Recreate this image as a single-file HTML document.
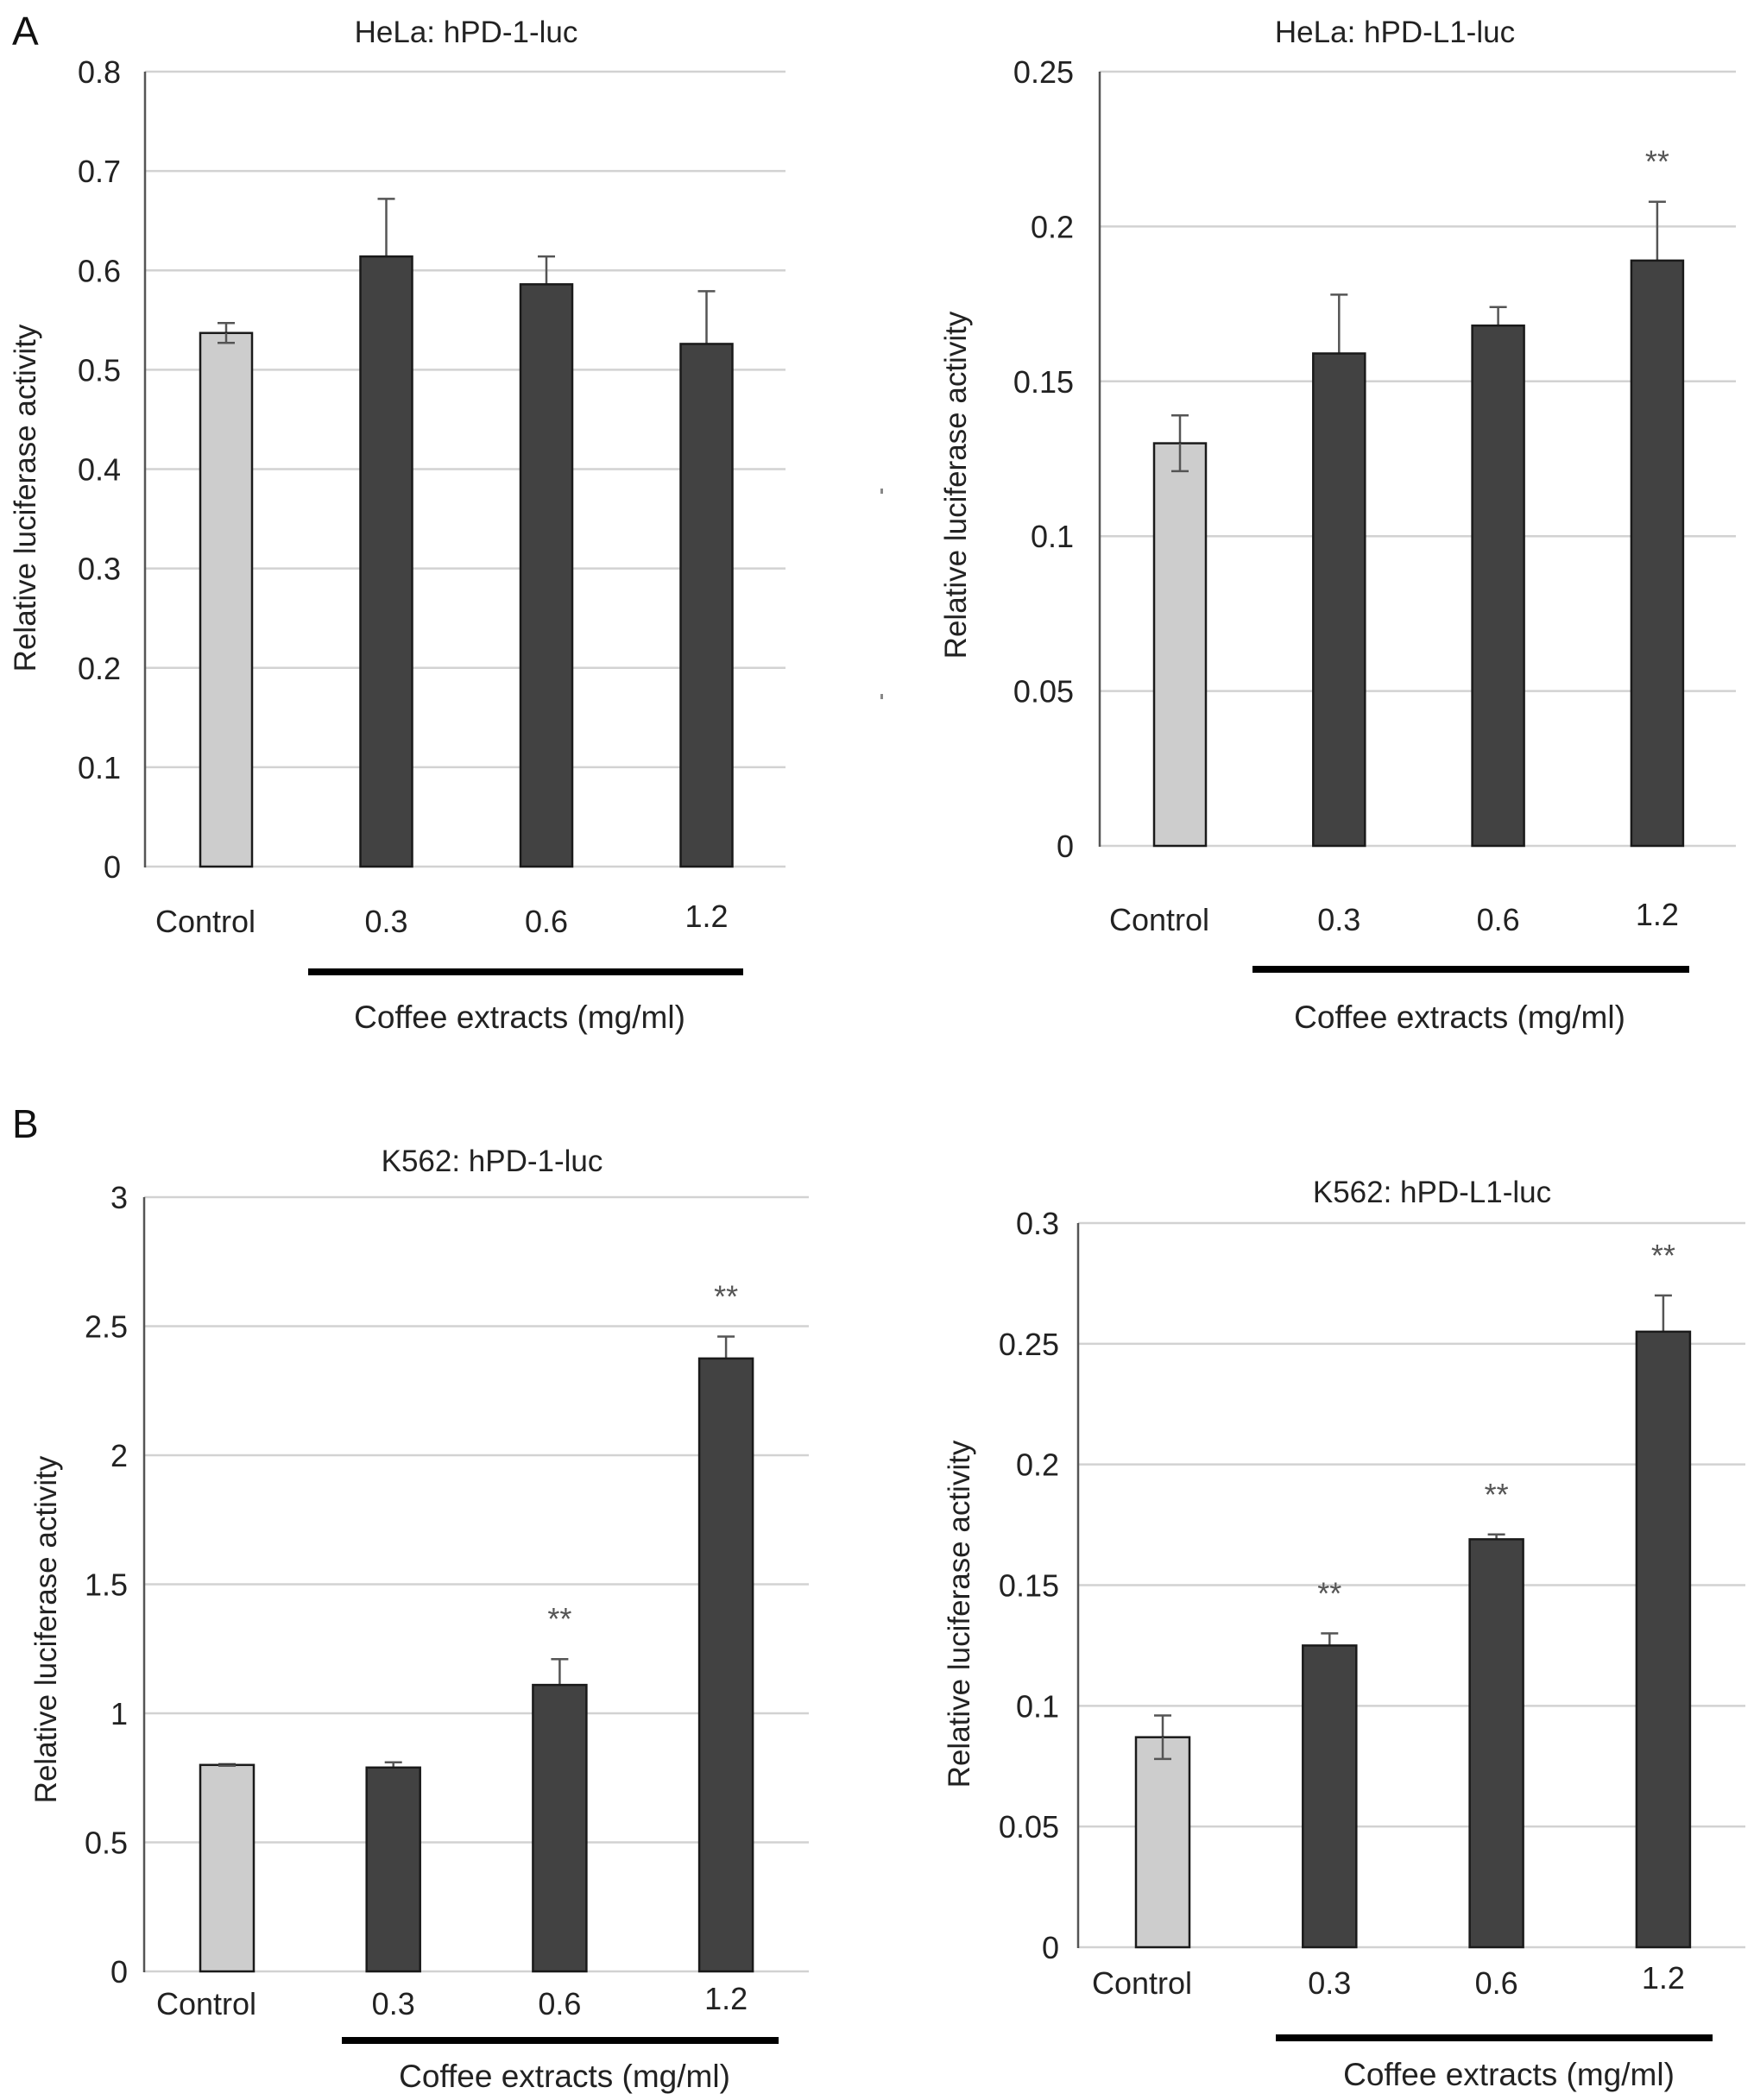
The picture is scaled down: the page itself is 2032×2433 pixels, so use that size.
<!DOCTYPE html>
<html><head><meta charset="utf-8"><style>
html,body{margin:0;padding:0;background:#fff;}
svg{display:block;font-family:"Liberation Sans",Arial,sans-serif;}
</style></head><body>
<svg id="fig" width="2032" height="2433" viewBox="0 0 2032 2433" xmlns="http://www.w3.org/2000/svg">
<text x="14" y="52" font-size="46" fill="#111">A</text>
<text x="14" y="1318" font-size="46" fill="#111">B</text>
<rect x="1020" y="566" width="3" height="6" fill="#888"/>
<rect x="1020" y="804" width="3" height="6" fill="#888"/>
</svg>
<script>
const categories = ["Control", "0.3", "0.6", "1.2"];
const a1Values = [0.537, 0.614, 0.586, 0.526];
const a1Errors = [0.010, 0.058, 0.028, 0.053];
const a1Sig = [false, false, false, false];
const a1Ticks = ["0","0.1","0.2","0.3","0.4","0.5","0.6","0.7","0.8"];
const a2Values = [0.130, 0.159, 0.168, 0.189];
const a2Errors = [0.009, 0.019, 0.006, 0.019];
const a2Sig = [false, false, false, true];
const a2Ticks = ["0","0.05","0.1","0.15","0.2","0.25"];
const b1Values = [0.80, 0.79, 1.11, 2.375];
const b1Errors = [0.003, 0.02, 0.10, 0.085];
const b1Sig = [false, false, true, true];
const b1Ticks = ["0","0.5","1","1.5","2","2.5","3"];
const b2Values = [0.087, 0.125, 0.169, 0.255];
const b2Errors = [0.009, 0.005, 0.002, 0.015];
const b2Sig = [false, true, true, true];
const b2Ticks = ["0","0.05","0.1","0.15","0.2","0.25","0.3"];

const NS = "http://www.w3.org/2000/svg";
const svg = document.getElementById('fig');
function mk(tag, attrs, parent, txt){
  const e = document.createElementNS(NS, tag);
  for (const k in attrs) e.setAttribute(k, attrs[k]);
  if (txt !== undefined) e.textContent = txt;
  (parent||svg).appendChild(e);
  return e;
}
function panel(p, values, errors, sig, ticks){
  const g = mk('g', {});
  
  
  const ymax = parseFloat(ticks[ticks.length-1]);
  const yS = v => p.y0 - (v / ymax) * (p.y0 - p.yTop);
  const xS = i => p.barX0 + i * p.step;
  ticks.forEach(t => {
    const y = yS(parseFloat(t));
    const gl = mk('line', {x1:p.ax, x2:p.gridR, y1:y, y2:y, stroke:'#d2d2d2', 'stroke-width':2.5}, g);
    
    
    const tl = mk('text', {x:p.tickR, y:y+13, 'font-size':36, 'text-anchor':'end', fill:'#222'}, g, t);
    
    
  });
  const axl = mk('line', {x1:p.ax, x2:p.ax, y1:p.yTop, y2:p.y0+1, stroke:'#555', 'stroke-width':2.5}, g);
  
  
  values.forEach((v, i) => {
    const x = xS(i), cx = x + p.bw/2, top = yS(v);
    const eTop = yS(v + errors[i]);
    const el = mk('line', {x1:cx, x2:cx, y1:eTop, y2: i===0 ? yS(v - errors[i]) : top+6, stroke:'#555', 'stroke-width':2.5}, g);
    
    
    const c1 = mk('line', {x1:cx-10, x2:cx+10, y1:eTop, y2:eTop, stroke:'#555', 'stroke-width':2.5}, g);
    
    
    const r = mk('rect', {x:x, y:top, width:p.bw, height:p.y0-top, fill: i===0 ? '#cdcdcd' : '#424242', stroke:'#1a1a1a', 'stroke-width':2.5}, g);
    
    
    if (i === 0) {
      const eb = yS(v - errors[i]);
      const c2 = mk('line', {x1:cx-10, x2:cx+10, y1:eb, y2:eb, stroke:'#555', 'stroke-width':2.5}, g);
      
      
      const e2 = mk('line', {x1:cx, x2:cx, y1:top, y2:eb, stroke:'#555', 'stroke-width':2.5}, g);
      
      
    }
    if (sig[i]) {
      const s = mk('text', {x:cx, y:eTop - 34, 'font-size':36, 'text-anchor':'middle', fill:'#555'}, g, '**');
      
      
    }
    const cl = mk('text', {x:cx + (i===0 ? -24 : 0), y:p.catY + (i===3 ? -6 : 0), 'font-size':36, 'text-anchor':'middle', fill:'#222'}, g, categories[i]);
    
    
  });
  const bl = mk('rect', {x:p.lineX1, y:p.lineY-4, width:p.lineX2-p.lineX1, height:8, fill:'#000'}, g);
  
  
  const ct = mk('text', {x:p.coffeeX, y:p.coffeeY+13, 'font-size':37, 'text-anchor':'middle', fill:'#222'}, g, 'Coffee extracts (mg/ml)');
  
  
  const tt = mk('text', {x:p.titleX, y:p.titleY+12, 'font-size':35, 'text-anchor':'middle', fill:'#222'}, g, p.title);
  
  
  const yt = mk('text', {x:0, y:0, 'font-size':35, 'text-anchor':'middle', fill:'#222', transform:`translate(${p.ytX+12},${p.ytY}) rotate(-90)`}, g, 'Relative luciferase activity');
  
  
}
panel({name:'chart-hela-pd1', ax:168, y0:1004, yTop:83, gridR:910, barX0:232, step:185.5, bw:60, tickR:140, catY:1080,
  lineX1:357, lineX2:861, lineY:1126, coffeeX:602, coffeeY:1178, titleX:540, titleY:37, title:'HeLa: hPD-1-luc', ytX:29, ytY:577},
  a1Values, a1Errors, a1Sig, a1Ticks);
panel({name:'chart-hela-pdl1', ax:1274, y0:980, yTop:83, gridR:2011, barX0:1337, step:184.3, bw:60, tickR:1244, catY:1078,
  lineX1:1451, lineX2:1957, lineY:1123, coffeeX:1691, coffeeY:1178, titleX:1616, titleY:37, title:'HeLa: hPD-L1-luc', ytX:1107, ytY:562},
  a2Values, a2Errors, a2Sig, a2Ticks);
panel({name:'chart-k562-pd1', ax:167, y0:2284, yTop:1387, gridR:937, barX0:232, step:192.7, bw:62, tickR:148, catY:2334,
  lineX1:396, lineX2:902, lineY:2364, coffeeX:654, coffeeY:2405, titleX:570, titleY:1345, title:'K562: hPD-1-luc', ytX:53, ytY:1888},
  b1Values, b1Errors, b1Sig, b1Ticks);
panel({name:'chart-k562-pdl1', ax:1249, y0:2256, yTop:1417, gridR:2022, barX0:1316, step:193.3, bw:62, tickR:1227, catY:2310,
  lineX1:1478, lineX2:1984, lineY:2361, coffeeX:1748, coffeeY:2403, titleX:1659, titleY:1381, title:'K562: hPD-L1-luc', ytX:1111, ytY:1870},
  b2Values, b2Errors, b2Sig, b2Ticks);
</script>
</body></html>
